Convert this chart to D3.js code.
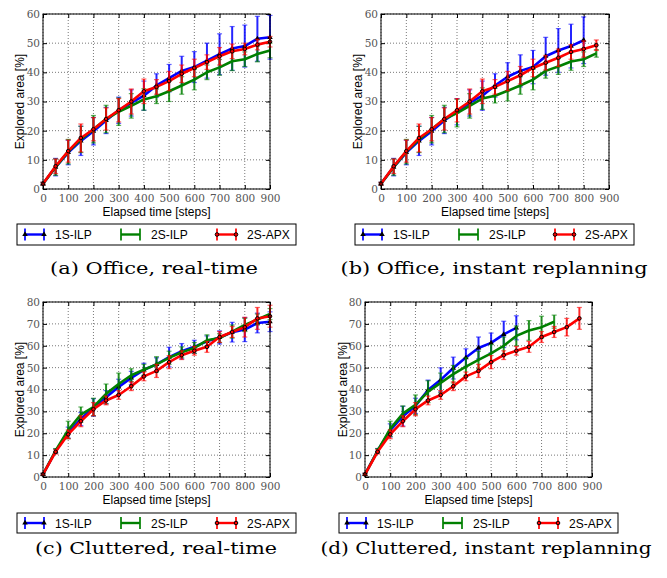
<!DOCTYPE html>
<html><head><meta charset="utf-8">
<script src="https://cdn.jsdelivr.net/npm/d3@7"></script>
<style>
html,body{margin:0;padding:0;background:#fff;}
svg{display:block;}
</style></head>
<body>
<script>
// ---------- DATA ----------
const steps = [0,50,100,150,200,250,300,350,400,450,500,550,600,650,700,750,800,850,900];
const xTicks = [0,100,200,300,400,500,600,700,800,900];
const yTicksOffice = [0,10,20,30,40,50,60];
const yTicksCluttered = [0,10,20,30,40,50,60,70,80];
const seriesNames = ["1S-ILP","2S-ILP","2S-APX"];
const captions = ["(a) Office, real-time","(b) Office, instant replanning","(c) Cluttered, real-time","(d) Cluttered, instant replanning"];
const xLabel = "Elapsed time [steps]";
const yLabel = "Explored area [%]";

// (a) Office, real-time
const officeRT_1S     = [1.8,7.5,12.5,16.5,19.8,23.5,27,29.5,32,35.5,38,40.5,41.8,44,46.2,48.2,49,51.5,52];
const officeRT_1S_err = [0.5,3,4.2,5,4.7,4.5,4.5,4.5,5,4,4.7,5,5.3,6,7,7.5,7.2,7.7,7.5];
const officeRT_2S     = [1.8,7.5,12.8,17,20.5,24,26.5,28.5,30.7,31.8,33.5,35.5,37.5,40,41.7,43.8,44.5,46.3,47.5];
const officeRT_2S_err = [0.5,2.8,4.2,4.5,4.7,4.7,4.7,4.2,3.7,2.5,3.5,3,3.5,2.5,2.7,3.2,2.5,2.7,2.5];
const officeRT_AP     = [1.8,7.8,13,17.5,20.5,24,27,30,33.5,35,37,39.5,41.5,43.5,45.5,47.2,48,49.5,50.5];
const officeRT_AP_err = [0.5,2.5,3.8,4.8,4,3.8,4,4.3,4.2,2.5,3.3,3,3,2.5,3,2.5,2,1.8,1.8];

// (b) Office, instant replanning
const officeIR_1S     = [1.8,7.5,12.5,16.5,19.8,23.5,26.5,29.5,32,35.5,38.5,40.5,41.8,45.5,47.5,49,51];
const officeIR_1S_err = [0.5,3,4.2,5,4.7,4.5,4.5,4.5,5,4,4.8,5.5,5.7,6.5,7.5,7.5,8];
const officeIR_2S     = [1.8,7.5,12.8,17,20.5,24,26,28.5,31,32,33.7,35.5,37.5,40.5,42,43.7,44.5,46.5];
const officeIR_2S_err = [0.5,2.8,4.2,4.5,4.7,4.7,4.7,4.2,3.7,2.5,3.5,3,3.5,2.5,2.7,3,2.5,1.3];
const officeIR_AP     = [1.8,7.8,13,17.5,20.5,24,27,30,33.5,35,37,39,41.5,43.3,45,47,48,49.3];
const officeIR_AP_err = [0.5,2.5,3.8,4.8,4,3.8,4,4.3,4.2,2.5,3.3,3,3,2.5,3,2.5,2.8,1.8];

// (c) Cluttered, real-time
const clutRT_1S     = [1.2,11.8,20.3,26.5,31.8,36.5,41.2,45.3,49,51.5,54.8,57.5,59.5,62,63.8,66.2,67.4,70.4,71];
const clutRT_1S_err = [0.5,1,2.5,3,4,3,3.5,3,3,3,4.5,3.5,3,2.5,3,4.5,5.5,4.5,4.5];
const clutRT_2S     = [1.2,12,21.5,28.5,32,38,42.5,46.5,49,51.5,54.5,57,59,62.5,63.5,66.5,69.5,72,74.5];
const clutRT_2S_err = [0.5,1,4,3.5,4,4.5,5,3,2.5,3.5,3,2.5,2.5,2.5,2,3,3,2.5,2.5];
const clutRT_AP     = [1.2,11.5,19.5,25.5,31,35,37.5,41.5,46,48.5,52.5,55.7,57.7,59.5,64,66.3,68.5,72.5,73.5];
const clutRT_AP_err = [0.5,1,2,2.5,3,2,2,2,2,3,3,2,2,2.5,2.5,2.5,4.5,5,5];

// (d) Cluttered, instant replanning
const clutIR_1S     = [1.2,12,21.3,27.8,32.5,39.8,44.4,49.8,54.6,59,61.3,65.2,68.2];
const clutIR_1S_err = [0.5,1,3,4.5,3.5,4.5,5.5,5,4,5,4.5,6,5.5];
const clutIR_2S     = [1.2,12,22,29,33,39,43,47,50.5,53.5,56.5,60,64.5,67,68.5,71];
const clutIR_2S_err = [0.5,1,3.5,3.5,4.5,5,4.5,4,4,4,4,4,4.5,4.5,5,3];
const clutIR_AP     = [1.2,11.5,19.5,25.5,31,35,37.5,41.5,46,48.5,52.5,55.7,57.7,59.5,64,66.3,68.5,72.5];
const clutIR_AP_err = [0.5,1,2,2.5,3,2,2,2,2,3,3,2,2,2.5,2.5,2.5,4,5];

const colors = ["#0000ff","#008000","#ff0000"];

// ---------- LAYOUT ----------
const W = 667, H = 578;
const svg = d3.select("body").append("svg").attr("width", W).attr("height", H);

const panels = [
  {box:[43,270,14,189], yTicks:yTicksOffice, yMax:60,
   series:[[officeRT_1S,officeRT_1S_err],[officeRT_2S,officeRT_2S_err],[officeRT_AP,officeRT_AP_err]],
   legend:[17,224,279,21], caption:[154,274,208], cap:captions[0], ylabX:20},
  {box:[381,609,14,189], yTicks:yTicksOffice, yMax:60,
   series:[[officeIR_1S,officeIR_1S_err],[officeIR_2S,officeIR_2S_err],[officeIR_AP,officeIR_AP_err]],
   legend:[355,224,279,21], caption:[494,274,307], cap:captions[1], ylabX:358},
  {box:[43,270,302,477], yTicks:yTicksCluttered, yMax:80,
   series:[[clutRT_1S,clutRT_1S_err],[clutRT_2S,clutRT_2S_err],[clutRT_AP,clutRT_AP_err]],
   legend:[17,513,279,20], caption:[156,554,242], cap:captions[2], ylabX:20},
  {box:[365,592,302,477], yTicks:yTicksCluttered, yMax:80,
   series:[[clutIR_1S,clutIR_1S_err],[clutIR_2S,clutIR_2S_err],[clutIR_AP,clutIR_AP_err]],
   legend:[339,513,279,20], caption:[486,554,331], cap:captions[3], ylabX:343}
];

function drawMarker(g, i, x, y){
  if(i===0){
    g.append("path").attr("d", d3.symbol(d3.symbolTriangle, 13)()).attr("transform",`translate(${x},${y})`)
      .attr("fill","#000");
  } else if(i===2){
    g.append("circle").attr("cx",x).attr("cy",y).attr("r",1.8).attr("fill","#ff0000").attr("stroke","#000").attr("stroke-width",1);
  }
}

panels.forEach(p=>{
  const [l,r,t,b] = p.box;
  const x = d3.scaleLinear().domain([0,900]).range([l,r]);
  const y = d3.scaleLinear().domain([0,p.yMax]).range([b,t]);
  const g = svg.append("g");

  // grid
  g.selectAll(".gx").data(xTicks).join("line")
    .attr("x1",d=>x(d)).attr("x2",d=>x(d)).attr("y1",t).attr("y2",b)
    .attr("stroke","#555").attr("stroke-width",0.8).attr("stroke-dasharray","1,2");
  g.selectAll(".gy").data(p.yTicks).join("line")
    .attr("x1",l).attr("x2",r).attr("y1",d=>y(d)).attr("y2",d=>y(d))
    .attr("stroke","#555").attr("stroke-width",0.8).attr("stroke-dasharray","1,2");

  // axes (ticks inward)
  const ax = d3.axisBottom(x).tickValues(xTicks).tickSize(-4).tickPadding(6);
  const ay = d3.axisLeft(y).tickValues(p.yTicks).tickSize(-4).tickPadding(3);
  const gx = g.append("g").attr("transform",`translate(0,${b})`).call(ax);
  const gy = g.append("g").attr("transform",`translate(${l},0)`).call(ay);
  const gx2 = g.append("g").attr("transform",`translate(0,${t})`).call(d3.axisTop(x).tickValues(xTicks).tickSize(-4).tickFormat(""));
  const gy2 = g.append("g").attr("transform",`translate(${r},0)`).call(d3.axisRight(y).tickValues(p.yTicks).tickSize(-4).tickFormat(""));
  [gx,gy,gx2,gy2].forEach(a=>{a.select(".domain").remove(); a.selectAll("line").attr("stroke","#000");});
  [gx,gy].forEach(a=>a.selectAll("text").attr("font-family","'DejaVu Serif', serif").attr("font-size",10.5).attr("fill","#555"));

  // series
  p.series.forEach((s,i)=>{
    const [vals,errs] = s;
    const pts = vals.map((v,k)=>({x:steps[k],y:v,e:errs[k]}));
    const sg = g.append("g");
    pts.forEach(d=>{
      const cx = x(d.x);
      sg.append("line").attr("x1",cx).attr("x2",cx).attr("y1",y(d.y-d.e)).attr("y2",y(d.y+d.e))
        .attr("stroke",colors[i]).attr("stroke-width",2).attr("opacity",0.85);
      [d.y-d.e,d.y+d.e].forEach(v=>{
        sg.append("line").attr("x1",cx-2.5).attr("x2",cx+2.5).attr("y1",y(v)).attr("y2",y(v))
          .attr("stroke",colors[i]).attr("stroke-width",1.2).attr("opacity",0.6);
      });
    });
    sg.append("path").datum(pts)
      .attr("d", d3.line().x(d=>x(d.x)).y(d=>y(d.y)))
      .attr("fill","none").attr("stroke",colors[i]).attr("stroke-width",2.6).attr("stroke-linejoin","round");
    pts.forEach(d=>drawMarker(sg,i,x(d.x),y(d.y)));
  });

  // frame
  g.append("rect").attr("x",l).attr("y",t).attr("width",r-l).attr("height",b-t)
    .attr("fill","none").attr("stroke","#000").attr("stroke-width",1);

  // axis labels
  g.append("text").attr("x",(l+r)/2).attr("y",b+27).attr("text-anchor","middle")
    .attr("font-family","'Liberation Sans', Arial, sans-serif").attr("font-size",12).text(xLabel);
  g.append("text").attr("transform",`translate(${p.ylabX+4},${(t+b)/2}) rotate(-90)`).attr("text-anchor","middle")
    .attr("font-family","'Liberation Sans', Arial, sans-serif").attr("font-size",12).text(yLabel);

  // legend
  const [lx,ly,lw,lh] = p.legend;
  const lg = g.append("g");
  lg.append("rect").attr("x",lx).attr("y",ly).attr("width",lw).attr("height",lh)
    .attr("fill","#fff").attr("stroke","#000").attr("stroke-width",1);
  const cy = ly+lh/2;
  seriesNames.forEach((n,i)=>{
    const sx = lx + 8 + i*96;
    lg.append("line").attr("x1",sx).attr("x2",sx+19).attr("y1",cy).attr("y2",cy)
      .attr("stroke",colors[i]).attr("stroke-width",2.4);
    [sx,sx+19].forEach(ex=>{
      lg.append("line").attr("x1",ex).attr("x2",ex).attr("y1",cy-6).attr("y2",cy+6)
        .attr("stroke",colors[i]).attr("stroke-width",2).attr("opacity",0.85);
      drawMarker(lg,i,ex,cy);
    });
    lg.append("text").attr("x",sx+30).attr("y",cy+4.5)
      .attr("font-family","'Liberation Sans', Arial, sans-serif").attr("font-size",12).text(n);
  });

  // caption
  g.append("text").attr("x",p.caption[0]).attr("y",p.caption[1]).attr("text-anchor","middle")
    .attr("font-family","'DejaVu Serif', 'Liberation Serif', serif").attr("font-size",17.5)
    .attr("textLength",p.caption[2]).attr("lengthAdjust","spacingAndGlyphs").text(p.cap);
});
</script>
</body></html>
